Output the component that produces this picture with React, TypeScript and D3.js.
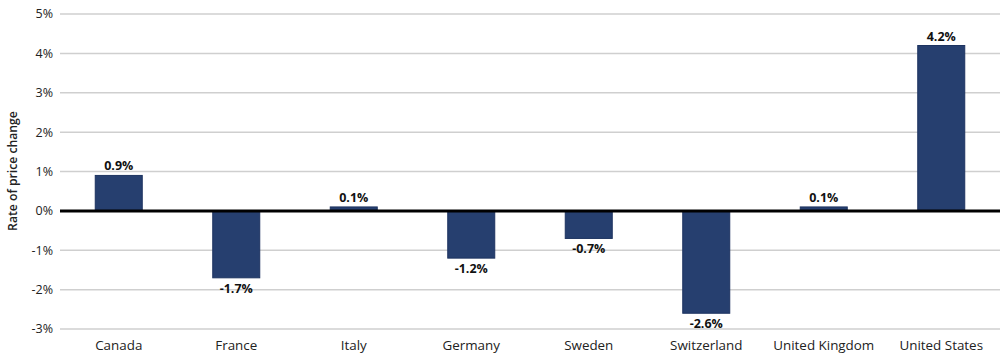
import React from "react";
import * as d3 from "d3";

const categories = ["Canada", "France", "Italy", "Germany", "Sweden", "Switzerland", "United Kingdom", "United States"];
const values = [0.9, -1.7, 0.1, -1.2, -0.7, -2.6, 0.1, 4.2];
const yTicks = [5, 4, 3, 2, 1, 0, -1, -2, -3];
const yTitle = "Rate of price change";

const W = 1000;
const H = 357;
const FONT = "'Open Sans', Lato, sans-serif";

export default function App() {
  const x = d3.scaleBand<string>().domain(categories).range([60, 1000]).paddingInner(0.6).paddingOuter(0.3);
  const y = d3.scaleLinear().domain([-3, 5]).range([329, 14]);
  const bw = x.bandwidth();
  return (
    <svg width={W} height={H} style={{ position: "absolute", left: 0, top: 0, background: "#fff" }} fontFamily={FONT}>
      {yTicks.map((t) => (
        <g key={t}>
          {t !== 0 && <line x1={60} x2={1000} y1={y(t)} y2={y(t)} stroke="#cfcfcf" strokeWidth={1.5} />}
          <text x={53} y={y(t)} dy="0.35em" textAnchor="end" fontSize={12.5} fill="#222">{`${t}%`}</text>
        </g>
      ))}
      {categories.map((c, i) => {
        const v = values[i];
        const x0 = x(c)!;
        const top = y(Math.max(0, v));
        const bot = y(Math.min(0, v));
        return (
          <g key={c}>
            <rect x={x0} y={top} width={bw} height={bot - top} fill="#263f6f" stroke="#1d3360" strokeWidth={1} />
            <text
              x={x0 + bw / 2}
              y={v >= 0 ? top - 5 : bot + 15}
              textAnchor="middle"
              fontSize={12.5}
              fontWeight={700}
              fill="#111"
            >{`${v.toFixed(1)}%`}</text>
            <text x={x0 + bw / 2} y={350} textAnchor="middle" fontSize={13.4} fill="#222">{c}</text>
          </g>
        );
      })}
      <line x1={60} x2={1000} y1={y(0)} y2={y(0)} stroke="#000" strokeWidth={3} />
      <text transform={`translate(17,${171}) rotate(-90)`} textAnchor="middle" fontSize={12.2} fontWeight={600} fill="#222">{yTitle}</text>
    </svg>
  );
}
